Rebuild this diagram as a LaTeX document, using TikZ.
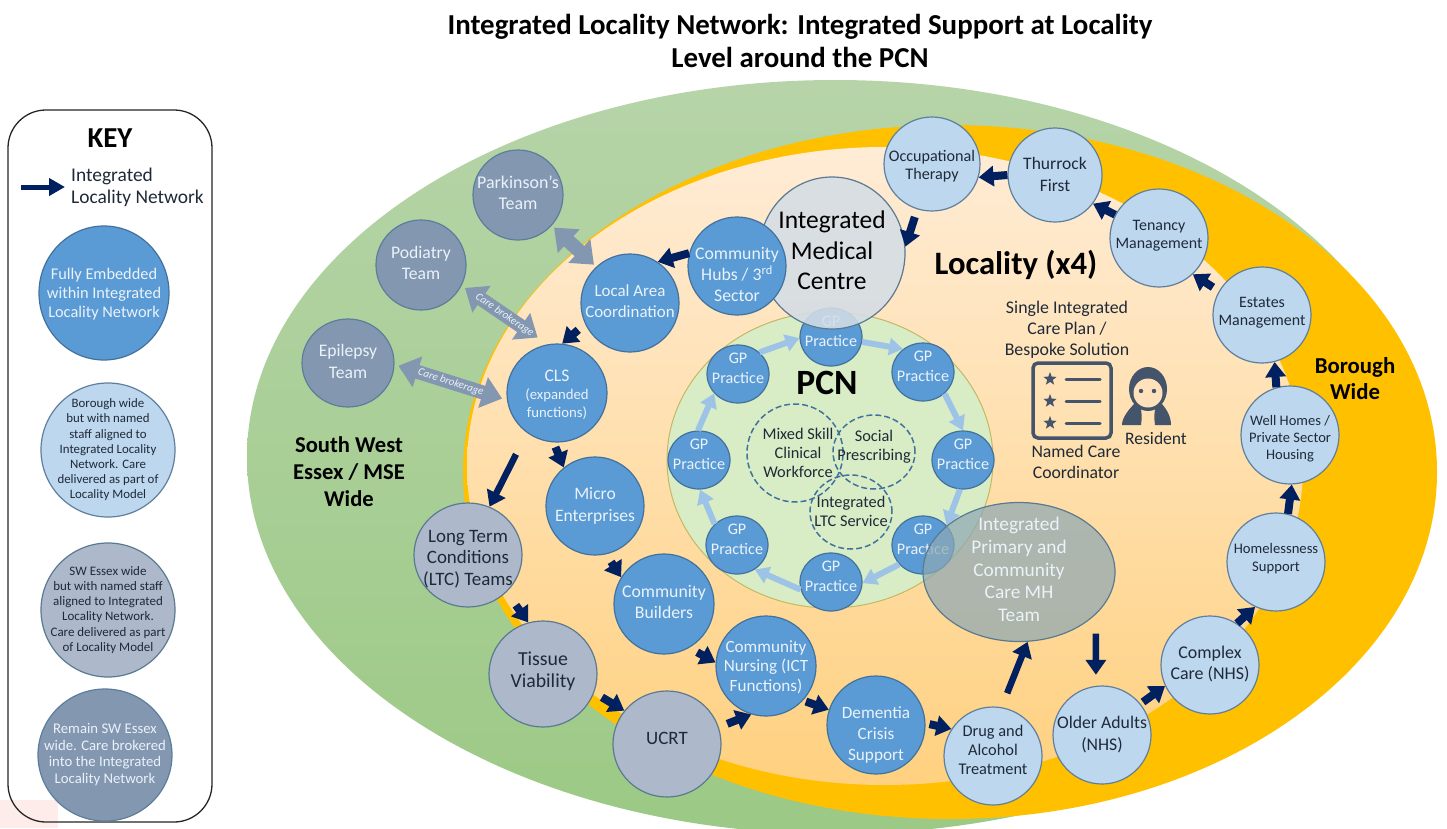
\documentclass[tikz,border=0pt]{standalone}
\usepackage{fontspec}
\setmainfont{Carlito}
\usetikzlibrary{shapes.geometric,arrows.meta}
\definecolor{navyc}{HTML}{002060}
\definecolor{arrowl}{HTML}{9DC3E6}
\definecolor{fullc}{HTML}{5B9BD5}
\definecolor{fulld}{HTML}{41719C}
\definecolor{boroc}{HTML}{BDD7EE}
\definecolor{borod}{HTML}{5F7F9C}
\definecolor{swc}{HTML}{ADB9CA}
\definecolor{swd}{HTML}{5A7A90}
\definecolor{remc}{HTML}{8497B0}
\definecolor{remd}{HTML}{5C7E9C}
\definecolor{inkc}{HTML}{1F2A38}
\definecolor{paleT}{HTML}{EAF2FA}
\definecolor{iconc}{HTML}{44546A}
\newcommand\fs[2]{\fontsize{#1}{#2}\selectfont}
\newcommand\tx[2][0]{\makebox[0pt]{\raisebox{\dimexpr #1pt-.25em\relax}[0pt][0pt]{\begin{tabular}[c]{@{}c@{}}#2\end{tabular}}}}
\tikzset{
  circ/.style 2 args={ellipse,inner sep=0pt,minimum width=2*#1 bp,minimum height=2*#2 bp,line width=1.2pt},
  tfull/.style={fill=fullc,draw=fulld,text=paleT},
  tboro/.style={fill=boroc,draw=borod,text=inkc},
  tsw/.style={fill=swc,draw=swd,text=inkc},
  trem/.style={fill=remc,draw=remd,text=paleT},
  gpn/.style={circ={31}{29},tfull,font=\fs{16.2}{19.5}},
  navyarrow/.style={draw=navyc,line width=8bp,-{Triangle[length=15bp,width=20bp]}},
  lightarrow/.style={draw=arrowl,line width=6bp,-{Triangle[length=14bp,width=17bp]}},
  brok/.style={draw=remc,line width=14bp,{Triangle[length=20bp,width=31bp]}-{Triangle[length=20bp,width=31bp]}},
  broktext/.style={midway,sloped,inner sep=0pt,text=paleT,font=\fs{11}{12}\itshape},
  plain/.style={inner sep=0pt,align=center,text=black},
  inner/.style={ellipse,inner sep=0pt,draw=#1,line width=1.5pt,dash pattern=on 6bp off 3bp},
}
\begin{document}
\begin{tikzpicture}[x=1bp,y=-1bp]
\clip (0,0) rectangle (1447,828);
\fill[white] (0,0) rectangle (1447,828);
% backgrounds
\shade[top color={rgb,255:red,182;green,212;blue,168},bottom color={rgb,255:red,156;green,201;blue,133}] (835,457) ellipse [x radius=588,y radius=377];
\fill[fill={rgb,255:red,255;green,192;blue,0}] (950,472) ellipse [x radius=487,y radius=347];
\shade[top color={rgb,255:red,255;green,236;blue,214},bottom color={rgb,255:red,255;green,209;blue,128}] (885,466) ellipse [x radius=418,y radius=319];
\filldraw[fill={rgb,255:red,216;green,237;blue,198},draw={rgb,255:red,196;green,184;blue,100},line width=1pt] (830,460) ellipse [x radius=163,y radius=148];
% key
\fill[fill={rgb,255:red,254;green,236;blue,234}] (0,800) rectangle (58,828);
\node[draw=black!85,line width=1.3pt,rounded corners=38bp,minimum width=204bp,minimum height=712bp,inner sep=0pt] (keybox) at (110,466) {};
\node[plain,font=\fs{29}{32}\bfseries] (keyt) at (110,138) {KEY};
\coordinate (ka) at (21,187);
\node[inner sep=0pt,align=left,font=\fs{19.5}{22},text=inkc,anchor=west] (kl) at (71,187) {Integrated\\Locality Network};
\draw[navyarrow,line width=5bp,shorten >=6bp,-{Triangle[length=16bp,width=17bp]}] (ka) -- (kl.west);
\node[circ={65}{67},tfull,font=\fs{16.4}{18.8}] (k1) at (104,293) {\tx[-2]{Fully Embedded\\within Integrated\\Locality Network}};
\node[circ={67}{67},tboro,font=\fs{12.9}{15.2}] (k2) at (108,450) {\tx{Borough wide\\but with named\\staff aligned to\\Integrated Locality\\Network. Care\\delivered as part of\\Locality Model}};
\node[circ={67}{67},tsw,font=\fs{13}{15.2}] (k3) at (108,610) {\tx{SW Essex wide\\but with named staff\\aligned to Integrated\\Locality Network.\\Care delivered as part\\of Locality Model}};
\node[circ={67}{66},trem,font=\fs{14.8}{17}] (k4) at (105,755) {\tx{Remain SW Essex\\wide. Care brokered\\into the Integrated\\Locality Network}};
% titles
\node[plain,font=\fs{29}{33}\bfseries] (title) at (800,41) {Integrated Locality Network: Integrated Support at Locality\\Level around the PCN};
\node[plain,font=\fs{22.7}{27}\bfseries] (sw) at (349,472) {South West\\Essex / MSE\\Wide};
\node[plain,font=\fs{22.9}{26}\bfseries] (bw) at (1355,379) {Borough\\Wide};
\node[plain,font=\fs{32.8}{35}\bfseries] (loc) at (1016,265) {Locality (x4)};
\node[plain,font=\fs{35.7}{38}\bfseries] (pcn) at (827,383) {PCN};
\node[plain,font=\fs{17.9}{21},text=inkc] (plan) at (1067,330) {Single Integrated\\Care Plan /\\Bespoke Solution};
\node[plain,font=\fs{17.8}{21.5},text=inkc] (ncc) at (1076,462) {Named Care\\Coordinator};
\node[plain,font=\fs{17.6}{21},text=inkc] (res) at (1156,438) {Resident};
% care plan icon
\draw[iconc,line width=3.5bp,rounded corners=5bp] (1033,363) rectangle (1111,438);
\foreach \yy in {379,401,423}{
  \node[star,star points=5,star point ratio=2.4,fill=iconc,inner sep=0pt,minimum size=14bp] at (1050,\yy) {};
  \draw[iconc,line width=3bp,line cap=round] (1066,\yy) -- (1100,\yy);
}
% resident icon
\fill[iconc] (1148,389) ellipse [x radius=19,y radius=22];
\fill[iconc] (1136,402) .. controls (1128,410) and (1122,418) .. (1122,425) -- (1141,425) .. controls (1142,418) and (1142,412) .. (1140,405) -- cycle;
\fill[iconc] (1160,402) .. controls (1168,410) and (1171,418) .. (1171,425) -- (1155,425) .. controls (1154,418) and (1154,412) .. (1156,405) -- cycle;
\fill[fill={rgb,255:red,255;green,226;blue,188}] (1148,393) ellipse [x radius=14.5,y radius=14.5];
\fill[iconc] (1141,391) circle (2.2) (1154,391) circle (2.2);
% PCN inner circles
\node[inner=fulld,minimum width=96bp,minimum height=98bp] (mix) at (795,453) {};
\node[inner=fulld,minimum width=82bp,minimum height=74bp] (soc) at (874,452) {};
\node[inner=fulld,minimum width=82bp,minimum height=74bp] (ltcs) at (851,512) {};
\node[plain,font=\fs{16.4}{19.2},text=inkc] (mixt) at (798,453) {Mixed Skill\\Clinical\\Workforce};
\node[plain,font=\fs{16.4}{19.2},text=inkc] (soct) at (874,447) {Social\\Prescribing};
\node[plain,font=\fs{16.4}{19.2},text=inkc] (ltct) at (851,511) {Integrated\\LTC Service};
% GP practices
\node[gpn] (g1) at (831,337) {\tx[4]{GP\\Practice}};
\node[gpn] (g2) at (923,372) {\tx[4]{GP\\Practice}};
\node[gpn] (g3) at (963,460) {\tx[4]{GP\\Practice}};
\node[gpn] (g4) at (923,545) {\tx[4]{GP\\Practice}};
\node[gpn] (g5) at (831,582) {\tx[4]{GP\\Practice}};
\node[gpn] (g6) at (737,545) {\tx[4]{GP\\Practice}};
\node[gpn] (g7) at (699,460) {\tx[4]{GP\\Practice}};
\node[gpn] (g8) at (738,374) {\tx[4]{GP\\Practice}};
\draw[lightarrow] (g8.45) -- (g1.182);
\draw[lightarrow] (g1.-9) -- (g2.131);
\draw[lightarrow] (g2.-45) -- (g3.90);
\draw[lightarrow] (g3.264) -- (g4.40);
\draw[lightarrow] (g4.219) -- (g5.-2);
\draw[lightarrow] (g5.194) -- (g6.-54);
\draw[lightarrow] (g6.137) -- (g7.272);
\draw[lightarrow] (g7.92) -- (g8.219);
% translucent overlays
\node[ellipse,inner sep=0pt,minimum width=192bp,minimum height=139bp,fill={rgb,255:red,142;green,168;blue,180},fill opacity=.72,text opacity=1,draw=swd,line width=1.2pt,text=paleT,font=\fs{19.4}{22.7}] (mh) at (1019,572) {\tx{Integrated\\Primary and\\Community\\Care MH\\Team}};
\node[circ={73}{76},fill={rgb,255:red,212;green,221;blue,230},fill opacity=.88,text opacity=1,draw=swd,text=black,font=\fs{25.6}{30.5}] (imc) at (832,253) {\tx{Integrated\\Medical\\Centre}};
% service nodes
\node[circ={45}{45},trem,font=\fs{18}{21}] (park) at (518,195) {\tx{Parkinson’s\\Team}};
\node[circ={45}{45},trem,font=\fs{17.7}{21}] (pod) at (421,265) {\tx{Podiatry\\Team}};
\node[circ={46}{44},trem,font=\fs{17.7}{22}] (epi) at (348,363) {\tx{Epilepsy\\Team}};
\node[circ={49}{49},tfull,font=\fs{17}{21}] (lac) at (630,303) {\tx{Local Area\\Coordination}};
\node[circ={49}{49},tfull,font=\fs{17.8}{21}] (hubs) at (737,266) {\tx[-10]{Community\\Hubs / 3\textsuperscript{rd}\\Sector}};
\node[circ={50}{49},tfull,font=\fs{14.8}{18}] (cls) at (557,393) {\tx[-3]{{\fs{17.7}{19}CLS}\\(expanded\\functions)}};
\node[circ={49}{49},tfull,font=\fs{17.6}{22}] (micro) at (595,506) {\tx{Micro\\Enterprises}};
\node[circ={50}{50},tfull,font=\fs{17.8}{21}] (build) at (664,604) {\tx{Community\\Builders}};
\node[circ={50}{50},tfull,font=\fs{17.2}{20}] (nurs) at (766,666) {\tx[-2]{Community\\Nursing (ICT\\Functions)}};
\node[circ={49}{49},tfull,font=\fs{17.3}{21}] (dem) at (876,725) {\tx[-10]{Dementia\\Crisis\\Support}};
\node[circ={49}{49},tboro,font=\fs{16.4}{19}] (drug) at (993,756) {\tx[4]{Drug and\\Alcohol\\Treatment}};
\node[circ={49}{49},tboro,font=\fs{17.8}{22}] (older) at (1102,735) {\tx{Older Adults\\(NHS)}};
\node[circ={49}{49},tboro,font=\fs{18}{21}] (cplx) at (1210,665) {\tx{Complex\\Care (NHS)}};
\node[circ={49}{49},tboro,font=\fs{14.7}{18}] (homel) at (1276,562) {\tx[3]{Homelessness\\Support}};
\node[circ={49}{49},tboro,font=\fs{14.6}{17.5}] (well) at (1290,435) {\tx[-4]{Well Homes /\\Private Sector\\Housing}};
\node[circ={49}{48},tboro,font=\fs{16}{19}] (est) at (1262,315) {\tx[2]{Estates\\Management}};
\node[circ={49}{49},tboro,font=\fs{16}{19}] (ten) at (1159,238) {\tx[2]{Tenancy\\Management}};
\node[circ={47}{47},tboro,font=\fs{17.6}{21.5}] (thur) at (1055,175) {\tx[-1]{Thurrock\\First}};
\node[circ={48}{47},tboro,font=\fs{16.2}{19}] (occ) at (932,164) {\tx[-3]{Occupational\\Therapy}};
\node[circ={54}{52},tsw,font=\fs{19}{21.5}] (ltc) at (468,555) {\tx[-4]{Long Term\\Conditions\\(LTC) Teams}};
\node[circ={54}{53},tsw,font=\fs{19.9}{22.5}] (tiss) at (543,674) {\tx[2]{Tissue\\Viability}};
\node[circ={54}{53},tsw,font=\fs{19}{22}] (ucrt) at (667,744) {\tx[4]{UCRT}};
% care brokerage arrows
\draw[brok,shorten <=3bp,shorten >=3bp] (park.-42) -- (lac.133);
\draw[brok,shorten <=4bp,shorten >=12bp] (pod.-27) -- (cls.101) node[broktext] {Care brokerage};
\draw[brok,shorten <=4bp,shorten >=5bp] (epi.-2) -- (cls.188) node[broktext] {Care brokerage};
% integrated locality network arrows
\draw[navyarrow] (hubs.165) -- (lac.56);
\draw[navyarrow,shorten <=9bp] (lac.205) -- (cls.84);
\draw[navyarrow,shorten <=5bp] (cls.266) -- (micro.129);
\draw[navyarrow,line width=6.5bp,shorten <=24bp] (cls.233) -- (ltc.66);
\draw[navyarrow,shorten <=16bp] (ltc.-44) -- (tiss.106);
\draw[navyarrow,shorten <=9bp] (micro.-77) -- (build.148);
\draw[navyarrow,shorten <=9bp] (build.-60) -- (nurs.176);
\draw[navyarrow,shorten <=9bp] (tiss.-20) -- (ucrt.142);
\draw[navyarrow,shorten <=9bp] (ucrt.18) -- (nurs.253);
\draw[navyarrow,shorten <=3bp] (nurs.-43) -- (dem.162);
\draw[navyarrow,shorten <=4bp] (dem.2) -- (drug.147);
\draw[navyarrow,line width=6.5bp,shorten <=15bp] (drug.80) -- (mh.277);
\draw[navyarrow,line width=6.5bp,shorten <=19bp,shorten >=11bp] (mh.-29.3) -- (older.97);
\draw[navyarrow,shorten <=3bp] (older.39) -- (cplx.205);
\draw[navyarrow] (cplx.57) -- (homel.245);
\draw[navyarrow] (homel.76) -- (well.272);
\draw[navyarrow] (well.106) -- (est.285);
\draw[navyarrow,shorten <=7bp] (est.151) -- (ten.-47);
\draw[navyarrow] (ten.152) -- (thur.-37);
\draw[navyarrow] (thur.180) -- (occ.-16);
\draw[navyarrow,shorten <=8bp] (occ.252) -- (imc.5);
\end{tikzpicture}
\end{document}
